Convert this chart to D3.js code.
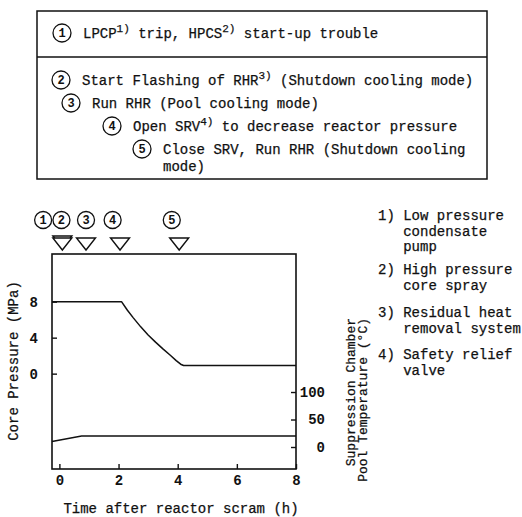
<!DOCTYPE html>
<html>
<head>
<meta charset="utf-8">
<script src="https://cdn.jsdelivr.net/npm/d3@7"></script>
<style>
  body { margin: 0; background: #fff; }
  text { font-family: "Liberation Mono", "Courier New", monospace; fill: #111; }
</style>
</head>
<body>
<div id="chart"></div>
<script>
// values
const timeTicks = [0, 2, 4, 6, 8];
const pressureTicks = [0, 4, 8];
const tempTicks = [0, 50, 100];

const pressureTime = [-0.25, 2.1, 2.3, 2.5, 2.75, 3.0, 3.25, 3.5, 3.75, 3.95, 4.1, 4.2, 8];
const pressureMPa = [8, 8, 7.05, 6.2, 5.2, 4.3, 3.5, 2.75, 2.05, 1.45, 1.05, 0.9, 0.9];

const tempTime = [-0.25, 0.75, 8];
const tempC = [10, 20, 20];

const eventIds = [1, 2, 3, 4, 5];
const eventTime = [0.1, 0.1, 0.9, 2.05, 4.05];
const eventLabelTime = [-0.55, 0.07, 0.9, 1.8, 3.8];

const footnotes = [
  ['1) Low pressure', '   condensate', '   pump'],
  ['2) High pressure', '   core spray'],
  ['3) Residual heat', '   removal system'],
  ['4) Safety relief', '   valve']
];

const boxLines = [
  { n: 1, segs: [['LPCP'], ['1)', 1], [' trip, HPCS'], ['2)', 1], [' start-up trouble']] },
  { n: 2, segs: [['Start Flashing of RHR'], ['3)', 1], [' (Shutdown cooling mode)']] },
  { n: 3, segs: [['Run RHR (Pool cooling mode)']] },
  { n: 4, segs: [['Open SRV'], ['4)', 1], [' to decrease reactor pressure']] },
  { n: 5, segs: [['Close SRV, Run RHR (Shutdown cooling']], more: 'mode)' }
];
const boxLineX = [62, 61, 71, 112, 142];
const boxLineY = [33, 80, 103, 126, 149];

const width = 522, height = 517;
const svg = d3.select('#chart').append('svg')
  .attr('width', width)
  .attr('height', height);

// ---- top box with the sequence of events
svg.append('rect')
  .attr('x', 37).attr('y', 11)
  .attr('width', 450).attr('height', 168)
  .attr('fill', 'none').attr('stroke', '#111').attr('stroke-width', 1.5);
svg.append('line')
  .attr('x1', 37).attr('x2', 487).attr('y1', 57).attr('y2', 57)
  .attr('stroke', '#111').attr('stroke-width', 1.5);

function circled(g, cx, cy, n, r) {
  g.append('circle').attr('cx', cx).attr('cy', cy).attr('r', r)
    .attr('fill', 'none').attr('stroke', '#111').attr('stroke-width', 1.3);
  g.append('text').attr('x', cx).attr('y', cy).attr('dy', '0.36em')
    .attr('text-anchor', 'middle').attr('font-size', 12).attr('font-weight', 'bold')
    .text(n);
}

boxLines.forEach((line, i) => {
  const cx = boxLineX[i], cy = boxLineY[i];
  circled(svg, cx, cy, line.n, 9);
  const t = svg.append('text')
    .attr('x', cx + 21).attr('y', cy).attr('dy', '0.35em')
    .attr('font-size', 14).attr('stroke', '#111').attr('stroke-width', 0.25);
  let up = false;
  line.segs.forEach(s => {
    const sp = t.append('tspan').text(s[0]);
    if (s[1]) { sp.attr('font-size', 11).attr('dy', -6); up = true; }
    else if (up) { sp.attr('dy', 6); up = false; }
  });
  if (line.more) {
    svg.append('text')
      .attr('x', cx + 21).attr('y', cy + 17).attr('dy', '0.35em')
      .attr('font-size', 14).attr('stroke', '#111').attr('stroke-width', 0.25)
      .text(line.more);
  }
});

// ---- chart
const x = d3.scaleLinear().domain([-0.25, 8]).range([52, 296]);
const yP = d3.scaleLinear().domain([-10.6, 13.3]).range([469, 254]);
const yT = d3.scaleLinear().domain([-40, 351]).range([469, 254]);

const plot = svg.append('g');

plot.append('rect')
  .attr('x', x.range()[0]).attr('y', yP.range()[1])
  .attr('width', x.range()[1] - x.range()[0])
  .attr('height', yP.range()[0] - yP.range()[1])
  .attr('fill', 'none').attr('stroke', '#111').attr('stroke-width', 1.6);

const xAxis = plot.append('g')
  .attr('transform', 'translate(0,' + yP.range()[0] + ')')
  .call(d3.axisBottom(x).tickValues(timeTicks).tickSizeInner(-5).tickSizeOuter(0).tickPadding(6));

const leftAxis = plot.append('g')
  .attr('transform', 'translate(' + x.range()[0] + ',0)')
  .call(d3.axisLeft(yP).tickValues(pressureTicks).tickSizeInner(-5).tickSizeOuter(0).tickPadding(14));

const rightAxis = plot.append('g')
  .attr('transform', 'translate(' + x.range()[1] + ',0)')
  .call(d3.axisRight(yT).tickValues(tempTicks).tickSizeInner(-5).tickSizeOuter(0).tickPadding(0));

[xAxis, leftAxis, rightAxis].forEach(a => {
  a.select('.domain').remove();
  a.selectAll('line').attr('stroke', '#111').attr('stroke-width', 1.4);
  a.selectAll('text')
    .attr('font-family', '"Liberation Mono", "Courier New", monospace')
    .attr('font-size', 14).attr('font-weight', 'bold').attr('fill', '#111');
});
rightAxis.selectAll('text').attr('text-anchor', 'end').attr('x', 29);

// pressure line
const pLine = d3.line()
  .x(d => x(d[0])).y(d => yP(d[1]));
plot.append('path')
  .datum(pressureTime.map((t, i) => [t, pressureMPa[i]]))
  .attr('d', pLine)
  .attr('fill', 'none').attr('stroke', '#111').attr('stroke-width', 1.5)
  .attr('stroke-linejoin', 'round');

// pool temperature line
const tLine = d3.line()
  .x(d => x(d[0])).y(d => yT(d[1]));
plot.append('path')
  .datum(tempTime.map((t, i) => [t, tempC[i]]))
  .attr('d', tLine)
  .attr('fill', 'none').attr('stroke', '#111').attr('stroke-width', 1.5);

// event markers
const triTop = 238, triH = 12, triW = 19;
eventIds.forEach((id, i) => {
  const cx = x(eventTime[i]);
  const off = id === 1 ? -2 : 0;
  plot.append('path')
    .attr('d', d3.line()([
      [cx - triW / 2, triTop + off], [cx + triW / 2, triTop + off], [cx, triTop + triH + off]
    ]) + 'Z')
    .attr('fill', '#fff').attr('stroke', '#111').attr('stroke-width', 1.4);
  circled(plot, x(eventLabelTime[i]), 220, id, 8.5);
});

// axis titles
svg.append('text')
  .attr('transform', 'translate(13,361) rotate(-90)')
  .attr('dy', '0.35em')
  .attr('text-anchor', 'middle').attr('font-size', 14)
  .attr('stroke', '#111').attr('stroke-width', 0.25)
  .text('Core Pressure (MPa)');

svg.append('text')
  .attr('transform', 'translate(350,318) rotate(-90)')
  .attr('dy', '0.35em')
  .attr('text-anchor', 'end').attr('font-size', 13)
  .attr('stroke', '#111').attr('stroke-width', 0.25)
  .text('Suppression Chamber');
svg.append('text')
  .attr('transform', 'translate(362,318) rotate(-90)')
  .attr('dy', '0.35em')
  .attr('text-anchor', 'end').attr('font-size', 13)
  .attr('stroke', '#111').attr('stroke-width', 0.25)
  .text('Pool Temperature (°C)');

svg.append('text')
  .attr('x', 181).attr('y', 508).attr('dy', '0.35em')
  .attr('text-anchor', 'middle').attr('font-size', 14)
  .attr('stroke', '#111').attr('stroke-width', 0.25)
  .text('Time after reactor scram (h)');

// footnotes
const noteTop = [220, 274, 317, 359];
footnotes.forEach((lines, i) => {
  const t = svg.append('text')
    .attr('x', 378).attr('y', noteTop[i]).attr('dy', '0.35em')
    .attr('font-size', 14).attr('stroke', '#111').attr('stroke-width', 0.25)
    .attr('xml:space', 'preserve').style('white-space', 'pre');
  lines.forEach((l, j) => {
    t.append('tspan').attr('x', 378).attr('dy', j === 0 ? 0 : 15.5).text(l);
  });
});
</script>
</body>
</html>
